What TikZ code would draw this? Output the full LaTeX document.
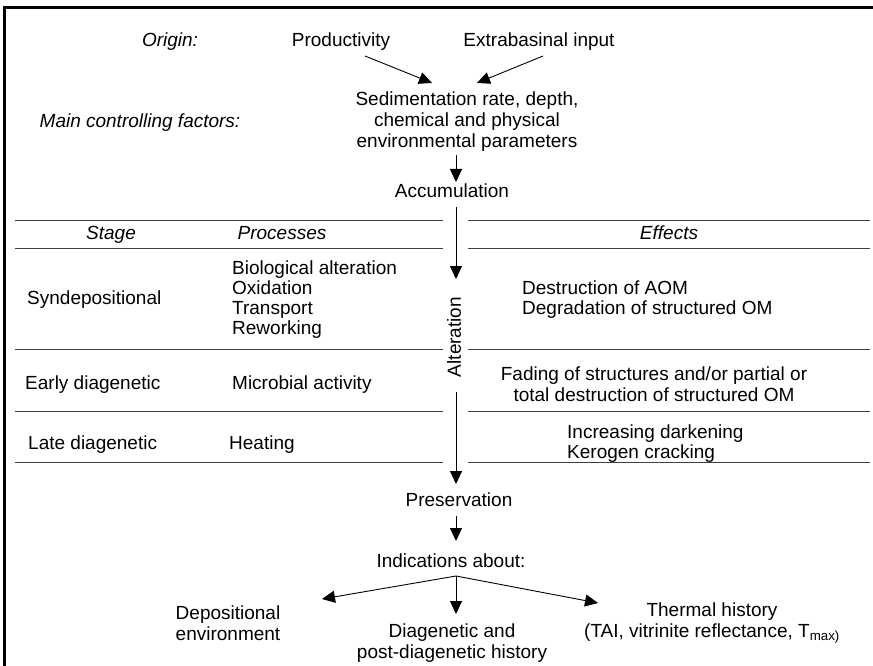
\documentclass[tikz,border=0pt]{standalone}
\usepackage{fontspec}
\setmainfont{Liberation Sans}
\usetikzlibrary{arrows.meta}
\begin{document}
\begin{tikzpicture}[x=1pt,y=-1pt,
  txt/.style={font=\fontsize{19}{21}\selectfont, inner sep=0pt, text height=13.5pt, text depth=4pt},
  mtxt/.style={font=\fontsize{19}{21}\selectfont, inner sep=0pt, align=center},
  ltxt/.style={font=\fontsize{19}{20}\selectfont, inner sep=0pt, align=left, anchor=west},
  arr/.style={line width=0.9pt, -{Triangle[width=12pt,length=13pt]}},
  rule/.style={line width=0.9pt, black!75},
  frame/.style={line width=3pt}
]
\useasboundingbox (0,0) rectangle (873,666);
\draw[frame] (4.5,666) -- (4.5,8) -- (873,8);

% top part
\node[txt] (origin) at (170,42) {\itshape Origin:};
\node[txt] (prod) at (341,42) {Productivity};
\node[txt] (extra) at (539,42) {Extrabasinal input};
\node[mtxt] (sed) at (467,122) {Sedimentation rate, depth,\\chemical and physical\\environmental parameters};
\node[txt] (main) at (140,123) {\itshape Main controlling factors:};
\node[txt] (acc) at (452,193) {Accumulation};

\coordinate (pA) at (365,56); \coordinate (pB) at (432,83);
\coordinate (eA) at (543,56); \coordinate (eB) at (477,83);
\coordinate (sA) at (456,155); \coordinate (sB) at (456,182);
\draw[arr] (pA) -- (pB);
\draw[arr] (eA) -- (eB);
\draw[arr] (sA) -- (sB);

% table rules
\foreach \y in {220,248,349,411,462} {
  \draw[rule] (15,\y) -- (443,\y);
  \draw[rule] (468,\y) -- (870,\y);
}

% headers
\node[txt] (stage) at (111,235) {\itshape Stage};
\node[txt] (proc) at (282,235) {\itshape Processes};
\node[txt] (eff) at (669,235) {\itshape Effects};

% rows
\node[txt, anchor=west] (syn) at (27,300) {Syndepositional};
\node[ltxt] (procs) at (232,300) {Biological alteration\\Oxidation\\Transport\\Reworking};
\node[ltxt] (eff1) at (522,300) {Destruction of AOM\\Degradation of structured OM};

\node[txt, anchor=west] (early) at (25,385) {Early diagenetic};
\node[txt, anchor=west] (micro) at (232,385) {Microbial activity};
\node[mtxt] (eff2) at (654,384) {Fading of structures and/or partial or\\total destruction of structured OM};

\node[txt, anchor=west] (late) at (28,445) {Late diagenetic};
\node[txt, anchor=west] (heat) at (229,445) {Heating};
\node[ltxt] (eff3) at (567,444) {Increasing darkening\\Kerogen cracking};

% central column
\node[txt, rotate=90] (alt) at (456,337) {Alteration};
\coordinate (aA) at (456,207); \coordinate (aB) at (456,279);
\coordinate (bA) at (456,392); \coordinate (bB) at (456,484);
\draw[arr] (aA) -- (aB);
\draw[arr] (bA) -- (bB);

\node[txt] (pres) at (459,502) {Preservation};
\coordinate (cA) at (456,516); \coordinate (cB) at (456,541);
\draw[arr] (cA) -- (cB);
\node[txt] (ind) at (451,563) {Indications about:};

\coordinate (br) at (456,576);
\coordinate (lT) at (322,599);
\coordinate (mT) at (456,614);
\coordinate (rT) at (598,603);
\draw[arr] (br) -- (lT);
\draw[arr] (br) -- (mT);
\draw[arr] (br) -- (rT);

\node[mtxt] (dep) at (228,623) {Depositional\\environment};
\node[mtxt] (diag) at (452,643) {Diagenetic and\\post-diagenetic history};
\node[mtxt] (therm) at (712,623) {Thermal history\\(TAI, vitrinite reflectance, T\textsubscript{max)}};
\end{tikzpicture}
\end{document}
